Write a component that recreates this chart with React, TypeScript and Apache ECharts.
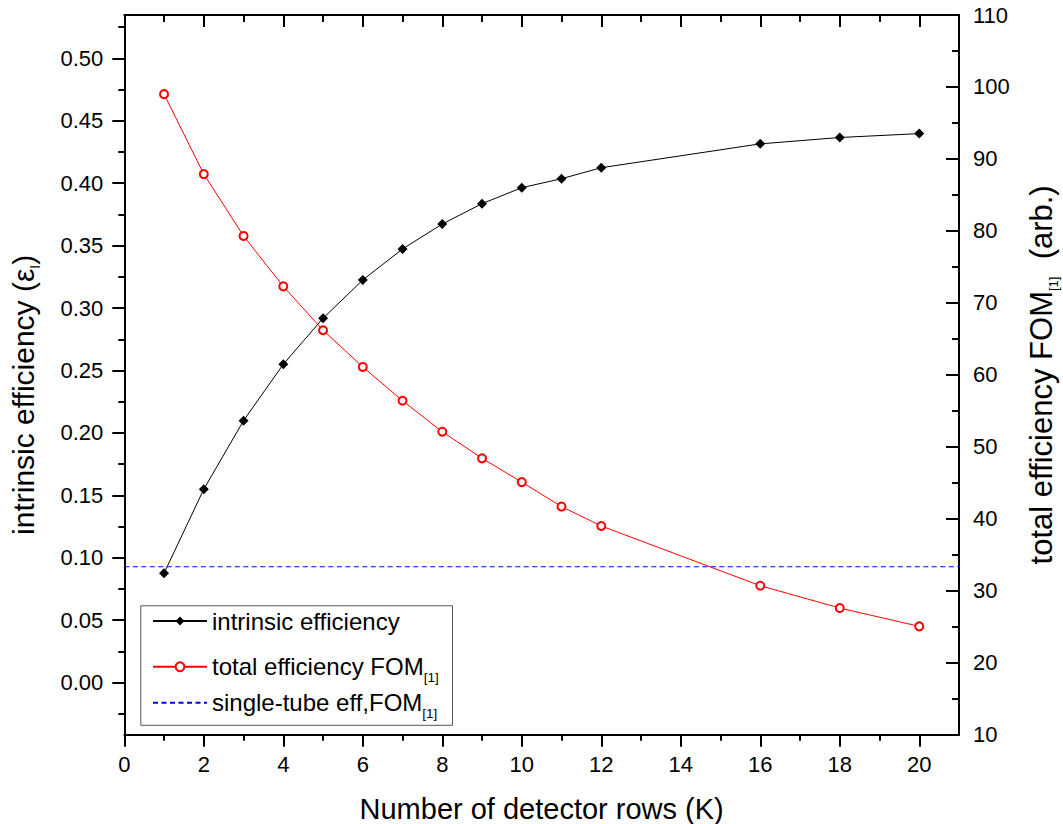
import React, { useEffect, useRef } from 'react';
import * as echarts from 'echarts';

// ---- data ----
const rowsK = [1, 2, 3, 4, 5, 6, 7, 8, 9, 10, 11, 12, 16, 18, 20];
const intrinsicEff = [0.0876, 0.1549, 0.2098, 0.255, 0.2918, 0.3225, 0.3473, 0.3673, 0.3836, 0.3964, 0.4036, 0.4124, 0.4315, 0.4366, 0.4397];
const totalFOM = [99.0, 87.9, 79.3, 72.3, 66.2, 61.1, 56.4, 52.1, 48.4, 45.1, 41.7, 39.0, 30.7, 27.6, 25.05];
const singleTubeX = [0, 21];
const singleTubeEff = [0.0928, 0.0928];

// ---- axis ranges and ticks ----
const xRange = [0, 21];
const leftRange = [-0.0417, 0.5347];
const rightRange = [10, 110];
const xMajorTicks = [0, 2, 4, 6, 8, 10, 12, 14, 16, 18, 20];
const xMinorTicks = [1, 3, 5, 7, 9, 11, 13, 15, 17, 19];
const leftMajorTicks = [0, 0.05, 0.1, 0.15, 0.2, 0.25, 0.3, 0.35, 0.4, 0.45, 0.5];
const leftMinorTicks = [-0.025, 0.025, 0.075, 0.125, 0.175, 0.225, 0.275, 0.325, 0.375, 0.425, 0.475, 0.525];

const FONT = '"Liberation Sans", Arial, sans-serif';
const NAME1 = 'intrinsic efficiency';
const NAME2 = 'total efficiency FOM[1]';
const NAME3 = 'single-tube eff,FOM[1]';

const subRich = {
  a: { fontSize: 24, lineHeight: 36, color: '#000', fontFamily: FONT },
  s: { fontSize: 13.5, lineHeight: 16, verticalAlign: 'bottom', color: '#000', fontFamily: FONT },
};
const leftNameRich = {
  a: { fontSize: 30, lineHeight: 38, color: '#000', fontFamily: FONT },
  s: { fontSize: 14, lineHeight: 15, verticalAlign: 'bottom', color: '#000', fontFamily: FONT },
};
const rightNameRich = {
  a: { fontSize: 31, lineHeight: 38, color: '#000', fontFamily: FONT },
  s: { fontSize: 13, lineHeight: 14, verticalAlign: 'bottom', color: '#000', fontFamily: FONT },
};

export default function App() {
  const ref = useRef<HTMLDivElement>(null);
  useEffect(() => {
    if (!ref.current) return;
    const chart = echarts.init(ref.current, null, { renderer: 'svg' });
    const axisLine = { show: true, onZero: false, lineStyle: { color: '#000', width: 2 } };
    const tickStyle = { color: '#000', width: 2 };
    const labelStyle = { color: '#000', fontSize: 22, fontFamily: FONT };
    const legendBase = {
      orient: 'vertical',
      left: 152,
      padding: 0,
      itemWidth: 54,
      itemHeight: 11,
      itemGap: 0,
      selectedMode: false,
      textStyle: { color: '#000', fontSize: 24, fontFamily: FONT, lineHeight: 26 },
    };
    chart.setOption({
      animation: false,
      backgroundColor: '#fff',
      grid: { left: 124.3, right: 104, top: 15, bottom: 89.3, containLabel: false, outerBoundsMode: 'none' },
      xAxis: [
        {
          type: 'value', position: 'bottom', min: xRange[0], max: xRange[1],
          axisLine,
          axisTick: { show: true, length: 12, lineStyle: tickStyle, customValues: xMajorTicks },
          axisLabel: { ...labelStyle, margin: 19, customValues: xMajorTicks },
          splitLine: { show: false },
          name: 'Number of detector rows (K)', nameLocation: 'middle', nameGap: 60,
          nameTextStyle: { color: '#000', fontSize: 29, fontFamily: FONT },
        },
        {
          type: 'value', position: 'bottom', min: xRange[0], max: xRange[1],
          axisLine: { show: false, onZero: false },
          axisTick: { show: true, length: 6, lineStyle: tickStyle, customValues: xMinorTicks },
          axisLabel: { show: false }, splitLine: { show: false },
        },
        {
          type: 'value', position: 'top', min: xRange[0], max: xRange[1],
          axisLine,
          axisTick: { show: true, inside: true, length: 12, lineStyle: tickStyle, customValues: xMajorTicks },
          axisLabel: { show: false }, splitLine: { show: false },
        },
        {
          type: 'value', position: 'top', min: xRange[0], max: xRange[1],
          axisLine: { show: false, onZero: false },
          axisTick: { show: true, inside: true, length: 7, lineStyle: tickStyle, customValues: xMinorTicks },
          axisLabel: { show: false }, splitLine: { show: false },
        },
      ],
      yAxis: [
        {
          type: 'value', position: 'left', min: leftRange[0], max: leftRange[1],
          axisLine,
          axisTick: { show: true, length: 12, lineStyle: tickStyle, customValues: leftMajorTicks },
          axisLabel: { ...labelStyle, margin: 21, customValues: leftMajorTicks, formatter: (v: number) => v.toFixed(2) },
          splitLine: { show: false },
          name: '{a|intrinsic efficiency (ε}{s|I}{a|)}', nameLocation: 'middle', nameGap: 82,
          nameTextStyle: { color: '#000', fontSize: 30, fontFamily: FONT, rich: leftNameRich, padding: [0, 40, 0, 0] },
        },
        {
          type: 'value', position: 'left', min: leftRange[0], max: leftRange[1],
          axisLine: { show: false, onZero: false },
          axisTick: { show: true, length: 6, lineStyle: tickStyle, customValues: leftMinorTicks },
          axisLabel: { show: false }, splitLine: { show: false },
        },
        {
          type: 'value', position: 'right', min: rightRange[0], max: rightRange[1], interval: 10,
          axisLine,
          axisTick: { show: true, inside: true, length: 13, lineStyle: tickStyle },
          minorTick: { show: true, splitNumber: 2, length: 7, lineStyle: tickStyle },
          axisLabel: { ...labelStyle, margin: 14 },
          splitLine: { show: false },
          name: '{a|total efficiency FOM}{s|[1]}{a|  (arb.)}', nameLocation: 'middle', nameGap: 63,
          nameTextStyle: { color: '#000', fontSize: 31, fontFamily: FONT, rich: rightNameRich },
        },
      ],
      legend: [
        { ...legendBase, top: 608, data: [NAME1] },
        {
          ...legendBase, top: 648.7, data: [NAME2],
          formatter: () => '{a|total efficiency FOM}{s|[1]}',
          textStyle: { ...legendBase.textStyle, lineHeight: 36, rich: subRich },
        },
        {
          ...legendBase, top: 684.7, data: [NAME3],
          formatter: () => '{a|single-tube eff,FOM}{s|[1]}',
          itemStyle: { color: 'rgba(0,0,0,0)', borderColor: 'rgba(0,0,0,0)', borderWidth: 0 },
          textStyle: { ...legendBase.textStyle, lineHeight: 36, rich: subRich },
        },
      ],
      graphic: [
        {
          type: 'rect', left: 138.3, top: 603.3, z: 1,
          shape: { width: 311.7, height: 119.5 },
          style: { fill: 'none', stroke: '#555', lineWidth: 1 },
        },
      ],
      series: [
        {
          name: NAME1, type: 'line', xAxisIndex: 0, yAxisIndex: 0,
          data: rowsK.map((k, i) => [k, intrinsicEff[i]]),
          symbol: 'diamond', symbolSize: 10,
          lineStyle: { color: '#000', width: 1 },
          itemStyle: { color: '#000' },
          z: 3,
        },
        {
          name: NAME2, type: 'line', xAxisIndex: 0, yAxisIndex: 2,
          data: rowsK.map((k, i) => [k, totalFOM[i]]),
          symbol: 'emptyCircle', symbolSize: 8,
          lineStyle: { color: '#ff0000', width: 1 },
          itemStyle: { color: '#ff0000', borderWidth: 1 },
          z: 3,
        },
        {
          name: NAME3, type: 'line', xAxisIndex: 0, yAxisIndex: 0,
          data: singleTubeX.map((x, i) => [x, singleTubeEff[i]]),
          symbol: 'none',
          lineStyle: { color: '#0000ff', width: 1, type: [5, 3.5] },
          itemStyle: { color: '#0000ff' },
          z: 2,
        },
      ],
    });
    return () => chart.dispose();
  }, []);
  return <div ref={ref} style={{ position: 'absolute', left: 0, top: 0, width: 1063, height: 824 }} />;
}
